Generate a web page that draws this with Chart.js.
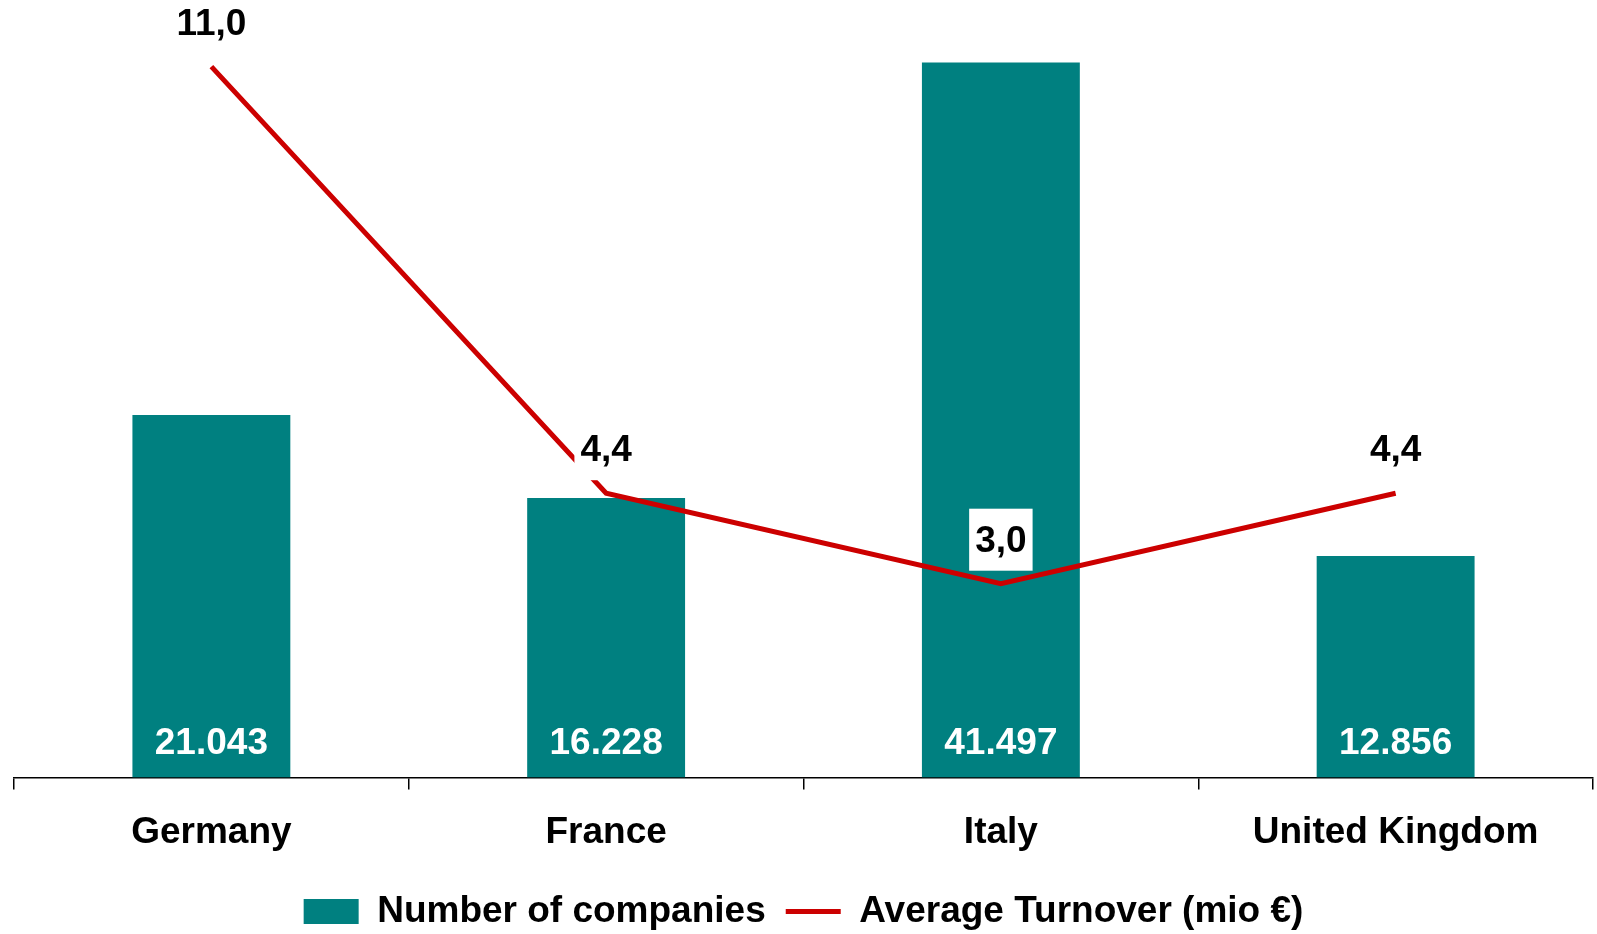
<!DOCTYPE html>
<html>
<head>
<meta charset="utf-8">
<script src="https://cdn.jsdelivr.net/npm/chart.js@4"></script>
<style>
  html, body { margin: 0; padding: 0; background: #fff; }
</style>
</head>
<body>
<canvas id="chart" width="1597" height="934"></canvas>
<script>
// ----------------- Data -----------------
const countries = ['Germany', 'France', 'Italy', 'United Kingdom'];
const companies = [21043, 16228, 41497, 12856];
const turnover = [11.0, 4.4, 3.0, 4.4];

const FONT = '"Liberation Sans", Arial, sans-serif';
Chart.defaults.font.family = FONT;

const fmtThousands = v => String(v).replace(/\B(?=(\d{3})+(?!\d))/g, '.');
const fmtDecimal = v => v.toFixed(1).replace('.', ',');

const LINE_IDX = 0;
const BAR_IDX = 1;

// value labels: white numbers at bar base, boxed labels above the line points
const valueLabels = {
  id: 'valueLabels',
  afterDatasetsDraw(chart) {
    const ctx = chart.ctx;
    ctx.save();
    ctx.font = 'bold 37px ' + FONT;
    ctx.textAlign = 'center';
    ctx.textBaseline = 'middle';

    chart.getDatasetMeta(BAR_IDX).data.forEach((bar, i) => {
      ctx.fillStyle = '#fff';
      ctx.fillText(fmtThousands(companies[i]), bar.x, bar.base - 34);
    });

    chart.getDatasetMeta(LINE_IDX).data.forEach((pt, i) => {
      const txt = fmtDecimal(turnover[i]);
      const w = ctx.measureText(txt).width + 12;
      const y = pt.y - 44;
      ctx.fillStyle = '#fff';
      ctx.fillRect(pt.x - w / 2, y - 31, w, 62);
      ctx.fillStyle = '#000';
      ctx.fillText(txt, pt.x, y + 2);
    });
    ctx.restore();
  }
};

new Chart(document.getElementById('chart'), {
  type: 'bar',
  data: {
    labels: countries,
    datasets: [
      {
        type: 'line',
        label: 'Average Turnover (mio €)',
        data: turnover,
        yAxisID: 'y1',
        borderColor: '#CC0000',
        backgroundColor: '#CC0000',
        borderWidth: 5,
        pointRadius: 0,
        tension: 0,
        fill: false,
        order: 0
      },
      {
        type: 'bar',
        label: 'Number of companies',
        data: companies,
        yAxisID: 'y',
        backgroundColor: '#008080',
        barPercentage: 0.4,
        categoryPercentage: 1,
        order: 1
      }
    ]
  },
  options: {
    responsive: false,
    animation: false,
    layout: { padding: { left: 14, right: 4, top: 2, bottom: -6 } },
    scales: {
      x: {
        offset: true,
        border: { display: true, color: '#000', width: 1.5 },
        grid: { offset: true, drawOnChartArea: false, drawTicks: true, tickLength: 12, color: '#000', lineWidth: 1.5 },
        ticks: { color: '#000', padding: 21, font: { size: 37, weight: 'bold' }, maxRotation: 0 },
        afterFit(scale) { scale.height -= 3; }
      },
      y: { display: false, min: 0, max: 45000 },
      y1: { display: false, min: 0, max: 12 }
    },
    plugins: {
      tooltip: { enabled: false },
      legend: {
        position: 'bottom',
        reverse: true,
        labels: {
          color: '#000',
          font: { size: 37, weight: 'bold' },
          usePointStyle: true,
          pointStyleWidth: 55,
          boxHeight: 25,
          padding: 20,
          generateLabels(chart) {
            return chart.data.datasets.map((ds, i) => ({
              text: ds.label,
              datasetIndex: i,
              fillStyle: ds.type === 'line' ? ds.borderColor : ds.backgroundColor,
              strokeStyle: ds.type === 'line' ? ds.borderColor : ds.backgroundColor,
              lineWidth: ds.type === 'line' ? 5 : 0,
              pointStyle: ds.type === 'line' ? 'line' : 'rect',
              fontColor: '#000',
              hidden: false
            }));
          }
        }
      }
    }
  },
  plugins: [valueLabels]
});
</script>
</body>
</html>
